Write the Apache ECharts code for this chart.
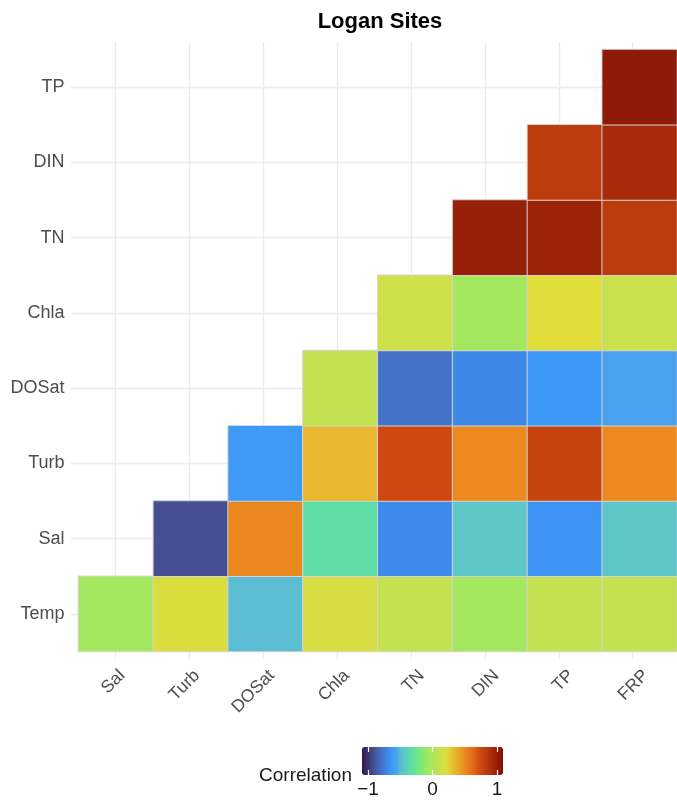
<!DOCTYPE html>
<html>
<head>
<meta charset="utf-8">
<script src="https://cdn.jsdelivr.net/npm/echarts@6/dist/echarts.min.js"></script>
<style>
  html, body { margin: 0; padding: 0; background: #ffffff; }
  #chart { width: 677px; height: 803px; }
</style>
</head>
<body>
<div id="chart"></div>
<script>
// Variables on each axis
const xLabels = ['Sal', 'Turb', 'DOSat', 'Chla', 'TN', 'DIN', 'TP', 'FRP'];
const yLabels = ['Temp', 'Sal', 'Turb', 'DOSat', 'Chla', 'TN', 'DIN', 'TP'];

// Lower-triangle correlations: each row lists the columns from its own position to FRP
const corrTemp  = [-0.04, 0.18, -0.45, 0.16, 0.08, -0.04, 0.08, 0.08]; // Sal..FRP
const corrSal   = [-0.84, 0.47, -0.30, -0.63, -0.41, -0.60, -0.41];    // Turb..FRP
const corrTurb  = [-0.57, 0.31, 0.68, 0.46, 0.72, 0.46];               // DOSat..FRP
const corrDOSat = [0.08, -0.72, -0.64, -0.58, -0.52];                  // Chla..FRP
const corrChla  = [0.13, -0.04, 0.20, 0.10];                           // TN..FRP
const corrTN    = [0.91, 0.89, 0.76];                                  // DIN..FRP
const corrDIN   = [0.76, 0.85];                                        // TP, FRP
const corrTP    = [0.94];                                              // FRP

// Colour bar tick labels
const legendTicks = [-1, 0, 1];

const rows = [corrTemp, corrSal, corrTurb, corrDOSat, corrChla, corrTN, corrDIN, corrTP];
const cells = [];
rows.forEach(function (row, yi) {
  row.forEach(function (v, k) {
    cells.push([yi + k, yi, v]);
  });
});

// Soft turbo-style colour ramp: anchor positions on the -1..1 scale and their colours
const rampAt = [-1.00, -0.84, -0.72, -0.64, -0.58, -0.52, -0.45, -0.41, -0.30, -0.16,
                -0.04, 0.08, 0.13, 0.20, 0.31, 0.46, 0.58, 0.68, 0.76, 0.88, 1.00];
const rampColours = ['#30184A', '#454F92', '#4472C8', '#3E88E8', '#3D98F8', '#4AA2EE',
                     '#5CBCD2', '#5EC6C6', '#5EDEA6', '#7CEA78', '#A4E85F', '#C3E251',
                     '#D0E048', '#E0DC3A', '#E8B82E', '#EC8A20', '#E26818', '#D04810',
                     '#BC3C0E', '#A02408', '#7C120A'];

function hexRgb(h) {
  return [parseInt(h.slice(1, 3), 16), parseInt(h.slice(3, 5), 16), parseInt(h.slice(5, 7), 16)];
}
function rampColour(v) {
  let i = 0;
  while (i < rampAt.length - 2 && v > rampAt[i + 1]) i++;
  const f = (v - rampAt[i]) / (rampAt[i + 1] - rampAt[i]);
  const a = hexRgb(rampColours[i]), b = hexRgb(rampColours[i + 1]);
  return 'rgb(' + a.map(function (c, k) { return Math.round(c + (b[k] - c) * f); }).join(',') + ')';
}
const ramp = [];
for (let i = 0; i <= 200; i++) ramp.push(rampColour(-1 + i / 100));

const FONT = '"Liberation Sans", Arial, Helvetica, sans-serif';
const chart = echarts.init(document.getElementById('chart'), null, { renderer: 'canvas' });

chart.setOption({
  backgroundColor: '#ffffff',
  animation: false,
  title: [
    {
      text: 'Logan Sites',
      left: 380, top: 11, textAlign: 'center', padding: 0,
      textStyle: { fontFamily: FONT, fontSize: 22, fontWeight: 'bold', color: '#000000' }
    },
    {
      text: 'Correlation',
      left: 352, top: 766, textAlign: 'right', padding: 0,
      textStyle: { fontFamily: FONT, fontSize: 19, fontWeight: 'normal', color: '#1a1a1a' }
    }
  ],
  grid: [
    // panel with major grid lines at category centres
    { left: 71, top: 42, width: 617, height: 617, containLabel: false },
    // tile area
    { left: 78.5, top: 49.5, width: 602.6, height: 602, containLabel: false },
    // colour bar tick axis
    { left: 362, top: 747, width: 141, height: 28, containLabel: false }
  ],
  xAxis: [
    {
      gridIndex: 0, type: 'value', min: -0.6, max: 7.6, minInterval: 1, maxInterval: 1,
      axisLine: { show: false }, axisTick: { show: false }, axisLabel: { show: false },
      splitLine: { show: true, showMinLine: false, showMaxLine: false, lineStyle: { color: '#EBEBEB', width: 1.3 } }
    },
    {
      gridIndex: 1, type: 'category', data: xLabels,
      axisLine: { show: false }, axisTick: { show: false }, splitLine: { show: false },
      axisLabel: {
        interval: 0, rotate: 45, align: 'right', verticalAlign: 'top', margin: 15,
        fontFamily: FONT, fontSize: 17.5, color: '#4D4D4D'
      }
    },
    {
      gridIndex: 2, type: 'value', min: -1.093, max: 1.093, position: 'bottom', z: 10,
      axisLine: { show: false }, splitLine: { show: false },
      axisTick: { show: true, inside: true, length: 5, customValues: legendTicks, lineStyle: { color: '#ffffff', width: 1.2 } },
      axisLabel: {
        show: true, customValues: legendTicks, margin: 5,
        fontFamily: FONT, fontSize: 19, color: '#1a1a1a',
        formatter: function (v) { return String(v).replace('-', '\u2212'); }
      }
    },
    {
      gridIndex: 2, type: 'value', min: -1.093, max: 1.093, position: 'top', z: 10,
      axisLine: { show: false }, splitLine: { show: false }, axisLabel: { show: false },
      axisTick: { show: true, inside: true, length: 5, customValues: legendTicks, lineStyle: { color: '#ffffff', width: 1.2 } }
    }
  ],
  yAxis: [
    {
      gridIndex: 0, type: 'value', min: -0.6, max: 7.6, minInterval: 1, maxInterval: 1,
      axisLine: { show: false }, axisTick: { show: false }, axisLabel: { show: false },
      splitLine: { show: true, showMinLine: false, showMaxLine: false, lineStyle: { color: '#EBEBEB', width: 1.3 } }
    },
    {
      gridIndex: 1, type: 'category', data: yLabels,
      axisLine: { show: false }, axisTick: { show: false }, splitLine: { show: false },
      axisLabel: { interval: 0, margin: 14, fontFamily: FONT, fontSize: 18, color: '#4D4D4D' }
    },
    { gridIndex: 2, type: 'value', show: false, min: 0, max: 1 }
  ],
  visualMap: {
    type: 'continuous',
    seriesIndex: 0,
    min: -1, max: 1,
    orient: 'horizontal',
    left: 362, top: 747,
    itemWidth: 28, itemHeight: 141,
    padding: 0,
    calculable: false,
    hoverLink: false,
    text: null,
    inRange: { color: ramp }
  },
  series: [
    {
      type: 'heatmap',
      xAxisIndex: 1, yAxisIndex: 1,
      data: cells,
      itemStyle: { borderColor: '#D4D4D4', borderWidth: 1 },
      emphasis: { disabled: true },
      progressive: 0
    }
  ]
});
</script>
</body>
</html>
